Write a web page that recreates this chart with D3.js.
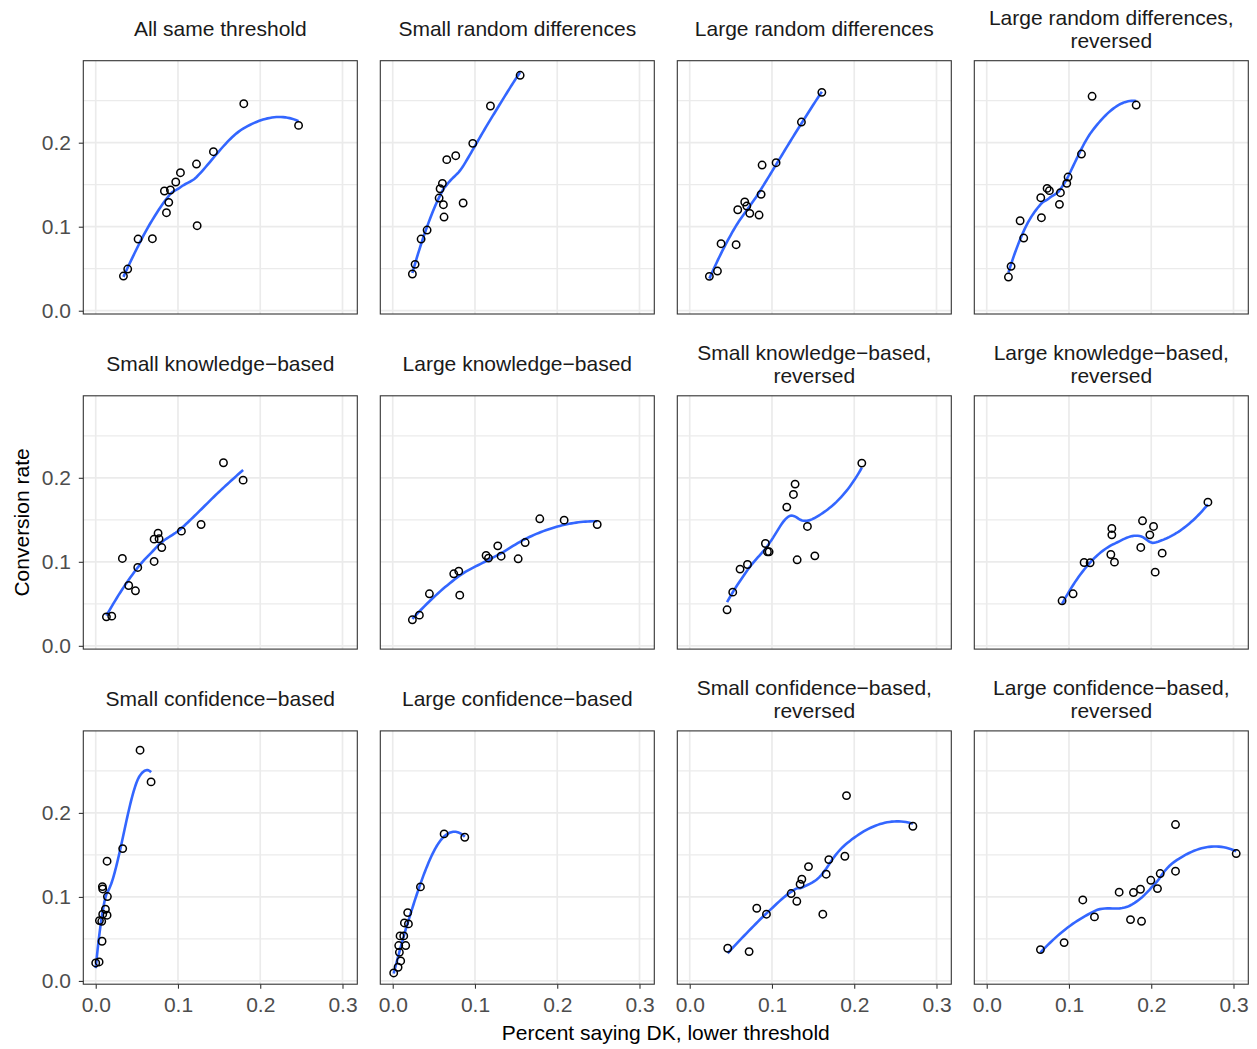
<!DOCTYPE html>
<html>
<head>
<meta charset="utf-8">
<script src="https://cdn.jsdelivr.net/npm/d3@7"></script>
<style>
  html, body { margin: 0; padding: 0; background: #ffffff; }
  svg { display: block; font-family: "Liberation Sans", Arial, Helvetica, sans-serif; }
</style>
</head>
<body>
<svg id="chart" width="1257" height="1049"></svg>
<script>
// ---- Data: percent saying DK (x) and conversion rate (y) per threshold scenario ----
const dkAllSame   = [0.0337, 0.0389, 0.0515, 0.0689, 0.0835, 0.0908, 0.0888, 0.0860, 0.0973, 0.1030, 0.1225, 0.1233, 0.1431, 0.1800, 0.2466];
const convAllSame = [0.0413, 0.0496, 0.0853, 0.0857, 0.1425, 0.1437, 0.1290, 0.1167, 0.1532, 0.1643, 0.1746, 0.1012, 0.1893, 0.2464, 0.2206];

const dkSmallRand   = [0.0239, 0.0272, 0.0345, 0.0418, 0.0564, 0.0576, 0.0604, 0.0616, 0.0624, 0.0657, 0.0766, 0.0856, 0.0973, 0.1188, 0.1549];
const convSmallRand = [0.0437, 0.0552, 0.0853, 0.0960, 0.1341, 0.1452, 0.1516, 0.1262, 0.1115, 0.1798, 0.1845, 0.1282, 0.1992, 0.2437, 0.2802];

const dkLargeRand   = [0.0239, 0.0337, 0.0381, 0.0564, 0.0584, 0.0669, 0.0694, 0.0730, 0.0843, 0.0868, 0.0880, 0.1050, 0.1358, 0.1606];
const convLargeRand = [0.0409, 0.0472, 0.0798, 0.0786, 0.1202, 0.1294, 0.1246, 0.1159, 0.1139, 0.1385, 0.1734, 0.1762, 0.2246, 0.2599];

const dkLargeRandRev   = [0.0264, 0.0296, 0.0450, 0.0406, 0.0665, 0.0657, 0.0734, 0.0762, 0.0884, 0.0896, 0.0973, 0.0989, 0.1152, 0.1281, 0.1817];
const convLargeRandRev = [0.0401, 0.0528, 0.0865, 0.1071, 0.1107, 0.1345, 0.1456, 0.1429, 0.1266, 0.1405, 0.1516, 0.1591, 0.1865, 0.2552, 0.2448];

const dkSmallKnow   = [0.0130, 0.0195, 0.0324, 0.0401, 0.0483, 0.0511, 0.0710, 0.0710, 0.0758, 0.0770, 0.0803, 0.1042, 0.1281, 0.1553, 0.1792];
const convSmallKnow = [0.0345, 0.0353, 0.1040, 0.0718, 0.0655, 0.0933, 0.1004, 0.1270, 0.1341, 0.1274, 0.1170, 0.1365, 0.1444, 0.2179, 0.1972];

const dkLargeKnow   = [0.0239, 0.0324, 0.0446, 0.0742, 0.0803, 0.0815, 0.1135, 0.1164, 0.1277, 0.1318, 0.1525, 0.1610, 0.1788, 0.2084, 0.2486];
const convLargeKnow = [0.0310, 0.0365, 0.0619, 0.0857, 0.0889, 0.0603, 0.1075, 0.1044, 0.1190, 0.1067, 0.1036, 0.1229, 0.1512, 0.1496, 0.1444];

const dkSmallKnowRev   = [0.0454, 0.0523, 0.0612, 0.0702, 0.0920, 0.0945, 0.0965, 0.1180, 0.1261, 0.1281, 0.1306, 0.1431, 0.1521, 0.2092];
const convSmallKnowRev = [0.0429, 0.0639, 0.0913, 0.0968, 0.1218, 0.1119, 0.1119, 0.1651, 0.1802, 0.1925, 0.1024, 0.1421, 0.1071, 0.2175];

const dkLargeKnowRev   = [0.0916, 0.1050, 0.1184, 0.1257, 0.1509, 0.1553, 0.1521, 0.1521, 0.1873, 0.1894, 0.1983, 0.2028, 0.2048, 0.2133, 0.2689];
const convLargeKnowRev = [0.0536, 0.0619, 0.0992, 0.0988, 0.1087, 0.0996, 0.1321, 0.1397, 0.1171, 0.1488, 0.1321, 0.1421, 0.0877, 0.1103, 0.1710];

const dkSmallConf   = [0.0000, 0.0041, 0.0077, 0.0045, 0.0073, 0.0085, 0.0118, 0.0138, 0.0142, 0.0081, 0.0085, 0.0138, 0.0328, 0.0539, 0.0673];
const convSmallConf = [0.0214, 0.0226, 0.0472, 0.0718, 0.0710, 0.0794, 0.0853, 0.0782, 0.1004, 0.1123, 0.1095, 0.1425, 0.1575, 0.2746, 0.2369];

const dkLargeConf   = [0.0012, 0.0065, 0.0097, 0.0081, 0.0073, 0.0089, 0.0134, 0.0158, 0.0142, 0.0191, 0.0182, 0.0337, 0.0625, 0.0876];
const convLargeConf = [0.0095, 0.0163, 0.0238, 0.0341, 0.0421, 0.0536, 0.0536, 0.0421, 0.0690, 0.0679, 0.0813, 0.1119, 0.1750, 0.1710];

const dkSmallConfRev   = [0.0462, 0.0722, 0.0815, 0.0933, 0.1233, 0.1302, 0.1342, 0.1363, 0.1444, 0.1618, 0.1659, 0.1691, 0.1886, 0.1906, 0.2713];
const convSmallConfRev = [0.0389, 0.0349, 0.0865, 0.0794, 0.1040, 0.0948, 0.1151, 0.1210, 0.1361, 0.0794, 0.1270, 0.1444, 0.1484, 0.2206, 0.1841];

const dkLargeConfRev   = [0.0653, 0.0941, 0.1168, 0.1310, 0.1610, 0.1748, 0.1784, 0.1869, 0.1882, 0.1995, 0.2076, 0.2109, 0.2295, 0.2295, 0.3033];
const convLargeConfRev = [0.0373, 0.0456, 0.0964, 0.0762, 0.1056, 0.0730, 0.1052, 0.1091, 0.0710, 0.1198, 0.1099, 0.1278, 0.1306, 0.1861, 0.1516];

// Facet titles (array entries = lines)
const panelTitles = [
  ["All same threshold"], ["Small random differences"], ["Large random differences"], ["Large random differences,", "reversed"],
  ["Small knowledge\u2212based"], ["Large knowledge\u2212based"], ["Small knowledge\u2212based,", "reversed"], ["Large knowledge\u2212based,", "reversed"],
  ["Small confidence\u2212based"], ["Large confidence\u2212based"], ["Small confidence\u2212based,", "reversed"], ["Large confidence\u2212based,", "reversed"]
];
const panelX = [dkAllSame, dkSmallRand, dkLargeRand, dkLargeRandRev, dkSmallKnow, dkLargeKnow, dkSmallKnowRev, dkLargeKnowRev, dkSmallConf, dkLargeConf, dkSmallConfRev, dkLargeConfRev];
const panelY = [convAllSame, convSmallRand, convLargeRand, convLargeRandRev, convSmallKnow, convLargeKnow, convSmallKnowRev, convLargeKnowRev, convSmallConf, convLargeConf, convSmallConfRev, convLargeConfRev];

const xTicks = [0, 0.1, 0.2, 0.3];
const yTicks = [0, 0.1, 0.2];
const yMinorTicks = [0.05, 0.15, 0.25];
const xTitle = "Percent saying DK, lower threshold";
const yTitle = "Conversion rate";

// ---- Layout ----
const nCols = 4;
const panelW = 274, panelH = 253.3;
const panelLeft0 = 83.3, colPitch = 297.0;
const panelTop0 = 60.7, rowPitch = 335.1;
const xDomain = [-0.0151, 0.318];
const yDomain = [-0.0039, 0.2976];
const fontSize = 21;

const svg = d3.select("#chart");
svg.append("rect").attr("width", 1257).attr("height", 1049).attr("fill", "#ffffff");

const x = d3.scaleLinear().domain(xDomain).range([0, panelW]);
const y = d3.scaleLinear().domain(yDomain).range([panelH, 0]);

// ---- Local quadratic regression smoother (tricube weights) ----
// Fit at one location: returns [value, slope].
function localFit(xs, ys, x0, q) {
  const n = xs.length;
  const dist = xs.map(v => Math.abs(v - x0));
  const h = Math.max(dist.slice().sort((a, b) => a - b)[Math.min(q, n) - 1], 1e-12);
  const S = [[0, 0, 0], [0, 0, 0], [0, 0, 0]];
  const B = [0, 0, 0];
  for (let k = 0; k < n; k++) {
    const u = dist[k] / h;
    if (u >= 1) continue;
    const w = Math.pow(1 - u * u * u, 3);
    const d = (xs[k] - x0) / h;
    const basis = [1, d, d * d];
    for (let a = 0; a < 3; a++) {
      B[a] += w * basis[a] * ys[k];
      for (let b = 0; b < 3; b++) S[a][b] += w * basis[a] * basis[b];
    }
  }
  const M = S.map((row, r) => row.concat([B[r]]));
  for (let c = 0; c < 3; c++) {
    let p = c;
    for (let r = c + 1; r < 3; r++) if (Math.abs(M[r][c]) > Math.abs(M[p][c])) p = r;
    [M[c], M[p]] = [M[p], M[c]];
    for (let r = c + 1; r < 3; r++) {
      const f = M[r][c] / M[c][c];
      for (let k = c; k < 4; k++) M[r][k] -= f * M[c][k];
    }
  }
  const beta = [0, 0, 0];
  for (let r = 2; r >= 0; r--) {
    let s = M[r][3];
    for (let k = r + 1; k < 3; k++) s -= M[r][k] * beta[k];
    beta[r] = Math.abs(M[r][r]) < 1e-14 ? 0 : s / M[r][r];
  }
  return [beta[0], beta[1] / h];
}

// Fits at k-d tree vertices, blended with cubic Hermite pieces between them.
function loess(xsIn, ysIn, span = 0.9, cell = 0.2, nEval = 80) {
  const order = d3.range(xsIn.length).sort((a, b) => xsIn[a] - xsIn[b]);
  const xs = order.map(i => xsIn[i]), ys = order.map(i => ysIn[i]);
  const n = xs.length;
  const q = Math.floor(n * span + 1e-5);
  const fc = Math.floor(n * span * cell);
  const lo = xs[0], hi = xs[n - 1];
  const mu = 0.005 * Math.max(hi - lo, 1e-10);
  const verts = [lo - mu, hi + mu];

  (function split(l, u, cLo, cHi) {
    if (u - l + 1 <= fc) return;
    let m = Math.floor((l + u) / 2);
    let off = 0, found = false;
    while (m + off < u && m + off >= l) {
      if (xs[m + off] !== xs[m + off + 1]) { m = m + off; found = true; break; }
      off = -off; if (off >= 0) off += 1;
    }
    if (!found) return;
    const t = xs[m];
    if (t === cLo || t === cHi) return;
    verts.push(t);
    split(l, m, cLo, t);
    split(m + 1, u, t, cHi);
  })(0, n - 1, lo - mu, hi + mu);

  verts.sort((a, b) => a - b);
  const vfit = verts.map(v => localFit(xs, ys, v, q));

  return d3.range(nEval).map(i => {
    const xe = lo + (hi - lo) * i / (nEval - 1);
    let j = d3.bisectRight(verts, xe) - 1;
    j = Math.max(0, Math.min(verts.length - 2, j));
    const vl = verts[j], vr = verts[j + 1], w = vr - vl;
    const t = (xe - vl) / w;
    const phi0 = (1 - t) * (1 - t) * (1 + 2 * t);
    const phi1 = t * t * (3 - 2 * t);
    const psi0 = t * (1 - t) * (1 - t);
    const psi1 = -t * t * (1 - t);
    return [xe, phi0 * vfit[j][0] + phi1 * vfit[j + 1][0] + (psi0 * vfit[j][1] + psi1 * vfit[j + 1][1]) * w];
  });
}

const line = d3.line().x(d => x(d[0])).y(d => y(d[1]));
const nRows = Math.ceil(panelTitles.length / nCols);

panelTitles.forEach((title, i) => {
  const col = i % nCols, row = Math.floor(i / nCols);
  const left = panelLeft0 + col * colPitch;
  const top = panelTop0 + row * rowPitch;
  const g = svg.append("g").attr("transform", `translate(${left},${top})`);

  // grid
  g.selectAll(".gminor").data(yMinorTicks).join("line")
    .attr("x1", 0).attr("x2", panelW).attr("y1", d => y(d)).attr("y2", d => y(d))
    .attr("stroke", "#EBEBEB").attr("stroke-width", 1.3);
  g.selectAll(".gy").data(yTicks).join("line")
    .attr("x1", 0).attr("x2", panelW).attr("y1", d => y(d)).attr("y2", d => y(d))
    .attr("stroke", "#EBEBEB").attr("stroke-width", 1.7);
  g.selectAll(".gx").data(xTicks).join("line")
    .attr("y1", 0).attr("y2", panelH).attr("x1", d => x(d)).attr("x2", d => x(d))
    .attr("stroke", "#EBEBEB").attr("stroke-width", 1.7);

  // smooth
  const xs = panelX[i], ys = panelY[i];
  g.append("path").datum(loess(xs, ys))
    .attr("d", line).attr("fill", "none")
    .attr("stroke", "#3366FF").attr("stroke-width", 2.6);

  // points
  g.selectAll(".pt").data(xs.map((v, k) => [v, ys[k]])).join("circle")
    .attr("cx", d => x(d[0])).attr("cy", d => y(d[1])).attr("r", 3.7)
    .attr("fill", "none").attr("stroke", "#000000").attr("stroke-width", 1.5);

  // panel border
  g.append("rect").attr("width", panelW).attr("height", panelH)
    .attr("fill", "none").attr("stroke", "#333333").attr("stroke-width", 1.1);

  // strip title
  const strip = g.append("text").attr("text-anchor", "middle")
    .attr("font-size", fontSize).attr("fill", "#1A1A1A");
  const baselines = title.length === 1 ? [-25.2] : [-36.2, -13.2];
  title.forEach((t, k) => {
    strip.append("tspan").attr("x", panelW / 2).attr("y", baselines[k]).text(t);
  });

  // axes on outer panels
  if (col === 0) {
    const ax = g.append("g").call(d3.axisLeft(y).tickValues(yTicks).tickFormat(d3.format(".1f"))
      .tickSizeInner(4.5).tickSizeOuter(0).tickPadding(7.8));
    ax.select(".domain").remove();
    ax.selectAll("line").attr("stroke", "#333333").attr("stroke-width", 1.1);
    ax.selectAll("text").attr("font-size", fontSize).attr("fill", "#4D4D4D")
      .attr("font-family", "'Liberation Sans', Arial, sans-serif");
  }
  if (row === nRows - 1) {
    const ax = g.append("g").attr("transform", `translate(0,${panelH})`)
      .call(d3.axisBottom(x).tickValues(xTicks).tickFormat(d3.format(".1f"))
      .tickSizeInner(4.5).tickSizeOuter(0).tickPadding(8.5));
    ax.select(".domain").remove();
    ax.selectAll("line").attr("stroke", "#333333").attr("stroke-width", 1.1);
    ax.selectAll("text").attr("font-size", fontSize).attr("fill", "#4D4D4D")
      .attr("font-family", "'Liberation Sans', Arial, sans-serif");
  }
});

// axis titles
const plotLeft = panelLeft0, plotRight = panelLeft0 + (nCols - 1) * colPitch + panelW;
const plotTop = panelTop0, plotBottom = panelTop0 + (nRows - 1) * rowPitch + panelH;
svg.append("text").attr("x", (plotLeft + plotRight) / 2).attr("y", 1040)
  .attr("text-anchor", "middle").attr("font-size", fontSize).attr("fill", "#000000")
  .text(xTitle);
svg.append("text")
  .attr("transform", `translate(29,${(plotTop + plotBottom) / 2}) rotate(-90)`)
  .attr("text-anchor", "middle").attr("font-size", fontSize).attr("fill", "#000000")
  .text(yTitle);
</script>
</body>
</html>
